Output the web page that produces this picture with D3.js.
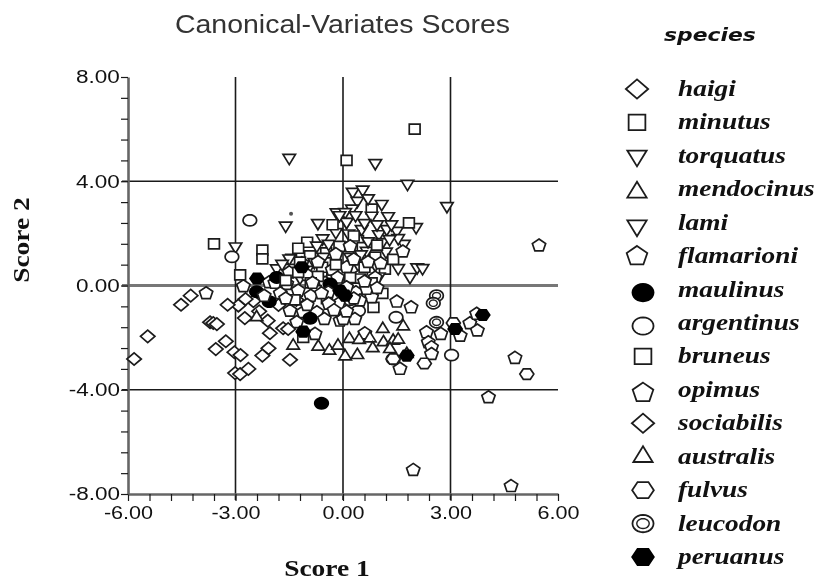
<!DOCTYPE html>
<html><head><meta charset="utf-8">
<script src="https://cdn.jsdelivr.net/npm/d3@7/dist/d3.min.js"></script>
<style>html,body{margin:0;padding:0;background:#fff}svg{display:block;filter:blur(0.5px)}</style>
</head><body><svg id="c" width="817" height="584"></svg>
<script>
const chartTitle = "Canonical-Variates Scores";
const xLabel = "Score 1";
const yLabel = "Score 2";
const legendTitle = "species";
const xMajor = [-6,-3,0,3,6];
const yMajor = [-8,-4,0,4,8];
const speciesNames = ["haigi","minutus","torquatus","mendocinus","lami","flamarioni","maulinus","argentinus","bruneus","opimus","sociabilis","australis","fulvus","leucodon","peruanus"];

const haigi = [[-2.92,-.77],[-2.74,-1.25],[-2.34,-.99],[-1.8,-.75],[-2.1,-1.35],[-1.3,-.55],[-2.5,-.6]];
const minutus = [[2.0,6.0],[.8,2.93],[.42,1.72],[-1.0,1.66],[-1.25,1.43],[-.47,1.25],[-.92,1.14],[.9,1.09],[-.58,.7],[1.17,.63],[-.3,.3],[.55,1.45],[-1.45,1.0]];
const torquatus = [[-1.5,4.9],[.9,4.7],[1.8,3.9],[2.9,3.05],[-3,1.5],[-1.6,2.3],[-.7,2.4],[.27,3.6],[.55,3.68],[.4,3.25],[.7,3.35],[1.08,3.13],[.8,2.68],[1.26,2.66],[.1,2.45],[.52,2.17],[1.0,1.97],[1.22,2.17],[1.5,2.1],[2.04,2.24],[.25,2.95],[.95,2.35],[1.35,2.35],[1.7,1.6]];
const mendocinus = [[-2.41,-1.22],[-1.39,-2.31],[-.69,-2.35],[-.38,-2.5],[-.14,-2.31],[.06,-2.72],[.4,-2.67],[1.11,-1.67],[1.68,-1.57]];
const lami = [[-1.85,.66],[-1.5,1.04],[-1.7,.83],[-.57,1.81],[-.73,1.53],[-.18,2.81],[.06,2.82],[-.2,2.05],[.1,2.44],[-.04,1.53],[1.1,1.67],[1.54,1.82],[1.3,1.78],[2.07,.7],[2.22,.67],[1.87,.33],[1.54,.67],[.66,1.33],[-.8,.9],[-.4,1.6],[.2,1.1],[.5,1.2],[.9,.8],[-1.2,.3],[0,.5],[.7,1.7],[-.1,2.7],[.35,2.7],[.6,2.4],[1.2,1.3],[-1,.6],[.15,2.0],[-.55,1.1],[1.0,.35],[.45,.75]];
const flamarioni = [[-2.78,-.03],[-2.06,.12],[-1.57,.06],[-1.25,-.2],[-1.48,-.97],[-1.11,-1.03],[-.73,-1.03],[-1.0,.4],[-.7,.9],[-.3,.6],[.1,.7],[.5,.4],[.9,.3],[-1.5,.5],[-1.9,.1],[-.5,.1],[-1.75,-.3],[-.15,.3],[.75,-.15],[-1.15,.85]];
const maulinus = [[-2.41,-.24],[-1.85,.31],[-2.06,-.62],[-.36,.06],[-.92,-1.26],[-.6,-4.52]];
const argentinus = [[-2.6,2.5],[3.03,-2.67],[.43,-.97],[1.48,-1.22],[-3.1,1.1],[1.4,-2.82],[.2,-.55]];
const bruneus = [[-3.6,1.6],[-2.25,1.36],[-2.25,1.02],[-2.87,.41],[.1,4.8],[-.29,2.33],[-1.25,.5],[1.84,2.4],[.47,.25],[-.76,-.2],[-1.11,-1.99],[.85,-.84],[-.7,.35],[-.2,.8],[.2,.3],[.6,.7],[-1.2,.9],[-.9,.1],[.4,-.1],[.8,.1],[-1.6,.2],[-.1,1.5],[.3,1.9],[1.4,1.0],[-.45,-.5],[1.1,-.3],[-1.35,-.55],[.95,1.55]];
const opimus = [[-3.82,-.3],[-.52,-1.29],[-1.29,-1.41],[-.78,-1.86],[-.08,-1.35],[-.13,-.71],[-.41,-.26],[.36,-.26],[.8,-.45],[.47,-.58],[.33,-1.29],[.01,-1.29],[.66,-.13],[.1,-.07],[1.67,1.3],[.3,1.0],[.7,.9],[-.2,1.2],[.2,1.5],[-.9,-.4],[-.4,-.7],[.3,-.5],[.1,-1.0],[-1.6,-.5],[-2.2,-.4],[-.6,-.3],[1.5,-.62],[1.9,-.84],[2.33,-1.8],[2.73,-1.86],[2.38,-2.18],[2.47,-2.37],[2.47,-2.63],[1.59,-3.2],[3.54,-1.45],[3.27,-1.93],[3.75,-1.73],[3.73,-1.09],[4.8,-2.78],[4.06,-4.29],[1.96,-7.08],[4.69,-7.7],[5.47,1.53],[.61,-1.84],[-1.0,-.75],[.95,-.1],[-.25,-.95],[.6,.15],[1.05,.85],[-.85,.1]];
const sociabilis = [[-5.83,-2.82],[-5.45,-1.95],[-4.52,-.74],[-4.25,-.39],[-3.71,-1.41],[-3.62,-1.44],[-3.52,-1.48],[-3.22,-.74],[-2.72,-.52],[-3.27,-2.14],[-3.55,-2.44],[-3.03,-2.56],[-2.86,-2.67],[-3.01,-3.36],[-2.87,-3.4],[-2.64,-3.2],[-2.04,-1.83],[-2.08,-2.41],[-2.25,-2.69],[-1.48,-2.85],[-1.67,-1.64],[-1.53,-1.67]];
const australis = [[.18,-2.05],[.45,-2.09],[.75,-2.03],[.83,-2.41],[1.13,-2.18],[1.4,-2.12],[1.54,-2.08],[1.31,-2.44],[1.78,-2.63]];
const fulvus = [[2.27,-2.99],[1.4,-2.82],[3.08,-1.44],[5.13,-3.4]];
const leucodon = [[2.61,-.39],[2.52,-.68],[2.61,-1.41]];
const peruanus = [[-2.4,.27],[-1.15,.7],[-1.11,-1.77],[-.08,-.2],[.06,-.39],[1.78,-2.69],[3.13,-1.67],[3.9,-1.13]];
const tinyMarks = [[-1.45,2.75]];
const seriesValues = [haigi,minutus,torquatus,mendocinus,lami,flamarioni,maulinus,argentinus,bruneus,opimus,sociabilis,australis,fulvus,leucodon,peruanus];

const svg = d3.select("#c");
const x = d3.scaleLinear().domain([-6,6]).range([128,558]);
const y = d3.scaleLinear().domain([-8,8]).range([494,77]);
const ink = "#1a1a1a";

const poly = (n, rot, rx, ry) => d3.range(n).map(i => { const a = rot + i*2*Math.PI/n; return [rx*Math.cos(a), ry*Math.sin(a)]; });
const ln = d3.line().curve(d3.curveLinearClosed);
const P = -Math.PI/2;
const shapes = {
  diamond: ln(poly(4,0,7.2,6.2)),
  square: ln([[-5.4,-5],[5.4,-5],[5.4,5],[-5.4,5]]),
  down: ln(poly(3,Math.PI/2,7.2,6.8)),
  up: ln(poly(3,P,7.2,6.8)),
  pent: ln(poly(5,P,7,6.6)),
  hex: ln(poly(6,0,7,6)),
  circ: ln(poly(24,0,6.8,5.6)),
};
const marker = {haigi:"diamond",minutus:"square",torquatus:"down",mendocinus:"up",lami:"down",flamarioni:"pent",maulinus:"circ",argentinus:"circ",bruneus:"square",opimus:"pent",sociabilis:"diamond",australis:"up",fulvus:"hex",leucodon:"circ",peruanus:"hex"};
const filled = new Set(["maulinus","peruanus"]);

function drawMark(g, name, sw) {
  g.append("path").attr("d", shapes[marker[name]])
    .attr("fill", filled.has(name) ? "#000" : "#fff")
    .attr("stroke", filled.has(name) ? "#000" : "#1c1c1c")
    .attr("stroke-width", sw);
  if (name === "leucodon") g.append("path").attr("d", ln(poly(24,0,4,3.2))).attr("fill","none").attr("stroke","#222").attr("stroke-width",sw*.8);
}

// grid
const grid = svg.append("g");
[-4,4].forEach(v => grid.append("line").attr("x1",122).attr("x2",x(6)).attr("y1",y(v)).attr("y2",y(v)).attr("stroke",ink).attr("stroke-width",1.4));
grid.append("line").attr("x1",122).attr("x2",x(6)).attr("y1",y(0)).attr("y2",y(0)).attr("stroke","#777").attr("stroke-width",3);
[-3,0,3].forEach(v => grid.append("line").attr("y1",y(8)).attr("y2",y(-8)+6).attr("x1",x(v)).attr("x2",x(v)).attr("stroke",ink).attr("stroke-width",1.6));

// axes
const fmt = v => d3.format(".2f")(v).replace("\u2212","-");
const xg = svg.append("g").attr("transform","translate(0,494)").call(
  d3.axisBottom(x).tickValues(d3.range(-6,6.001,.6)).tickSize(7).tickSizeOuter(0)
    .tickFormat(v => xMajor.some(m => Math.abs(m-v)<1e-6) ? fmt(v) : ""));
const yg = svg.append("g").attr("transform","translate(128,0)").call(
  d3.axisLeft(y).tickValues(d3.range(-8,8.001,.8)).tickSize(7).tickSizeOuter(0)
    .tickFormat(v => yMajor.some(m => Math.abs(m-v)<1e-6) ? fmt(v) : ""));
[xg,yg].forEach(g => {
  g.select(".domain").attr("stroke","#666").attr("stroke-width",2.6);
  g.selectAll(".tick line").attr("stroke",ink).attr("stroke-width",1.2);
  g.selectAll("text").attr("font-family","'Liberation Sans',Arial,sans-serif").attr("font-size",18).attr("fill","#111");
});
xg.selectAll("text").attr("dy",".71em").attr("y",12.5).attr("transform","scale(1.2,1)");
yg.selectAll("text").attr("x",-6.5).attr("dy",".33em").attr("transform","scale(1.25,1)");

// marks
speciesNames.forEach((name,i) => {
  svg.append("g").selectAll("g").data(seriesValues[i]).join("g")
    .attr("transform", d => `translate(${x(d[0])},${y(d[1])})`)
    .each(function(){ drawMark(d3.select(this), name, 1.7); });
});
svg.append("g").selectAll("circle").data(tinyMarks).join("circle")
  .attr("cx", d => x(d[0])).attr("cy", d => y(d[1])).attr("r",2).attr("fill","#555");

// titles
svg.append("text").attr("transform","translate(342.5,33) scale(1.14,1)").attr("text-anchor","middle")
  .attr("font-family","'Liberation Sans',Arial,sans-serif").attr("font-size",25).attr("fill","#333").text(chartTitle);
svg.append("text").attr("transform","translate(327,576) scale(1.17,1)").attr("text-anchor","middle")
  .attr("font-family","'Liberation Serif',serif").attr("font-weight","bold").attr("font-size",23.5).attr("fill","#111").text(xLabel);
svg.append("text").attr("transform","translate(29,240) rotate(-90) scale(1.17,1)").attr("text-anchor","middle")
  .attr("font-family","'Liberation Serif',serif").attr("font-weight","bold").attr("font-size",23.5).attr("fill","#111").text(yLabel);

// legend
svg.append("text").attr("transform","translate(664,41) scale(1.25,1)")
  .attr("font-family","'DejaVu Sans',sans-serif").attr("font-weight","bold").attr("font-style","italic").attr("font-size",17.5).attr("fill","#111").text(legendTitle);
const markerRow = d3.scaleLinear().domain([0,speciesNames.length-1]).range([89,557]);
const textRow = d3.scaleLinear().domain([0,speciesNames.length-1]).range([96,564]);
const rowNudge = new Set([3,4,6,7,9]);
speciesNames.forEach((name,i) => {
  const g = svg.append("g").attr("transform",`translate(${i<6?637:643},${markerRow(i)+(rowNudge.has(i)?3:0)}) scale(1.55)`);
  drawMark(g,name,1.15);
  svg.append("text").attr("transform",`translate(678,${textRow(i)}) scale(1.14,1)`)
    .attr("font-family","'Liberation Serif',serif").attr("font-weight","bold").attr("font-style","italic")
    .attr("font-size",24).attr("fill","#111").text(name);
});
</script></body></html>
